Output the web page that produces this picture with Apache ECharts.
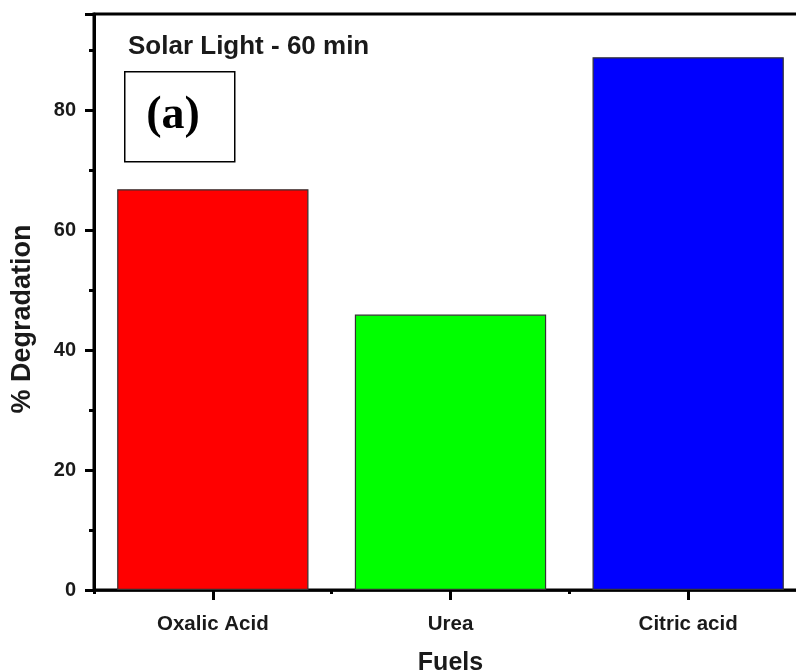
<!DOCTYPE html>
<html><head><meta charset="utf-8">
<script src="https://cdn.jsdelivr.net/npm/echarts@6/dist/echarts.min.js"></script>
<style>html,body{margin:0;padding:0;background:#fff;overflow:hidden}#c{width:796px;height:671px}</style>
</head><body><div id="c"></div>
<script>
const categories = ['Oxalic Acid', 'Urea', 'Citric acid'];
const degradation = [66.8, 45.9, 88.8];
const barColors = ['#ff0000', '#00ff00', '#0000ff'];
const titleText = 'Solar Light - 60 min';
const panelLabel = '(a)';
const xName = 'Fuels';
const yName = '% Degradation';

const F = '"Liberation Sans", Arial, sans-serif';
const chart = echarts.init(document.getElementById('c'));
chart.setOption({
  animation: false,
  backgroundColor: '#fff',
  title: {
    text: titleText, left: 123, top: 29,
    textStyle: { fontFamily: F, fontWeight: 'bold', fontSize: 26, color: '#1a1a1a' }
  },
  grid: { left: 94, right: -11, top: 14, bottom: 81, show: true, borderColor: '#000', borderWidth: 3,
    containLabel: false, outerBoundsMode: 'none' },
  xAxis: [{
    type: 'category', data: categories, position: 'bottom',
    name: xName, nameLocation: 'middle', nameGap: 61,
    nameTextStyle: { fontFamily: F, fontWeight: 'bold', fontSize: 25, color: '#1a1a1a' },
    axisLine: { lineStyle: { color: '#000', width: 2.5 } },
    axisTick: { show: true, alignWithLabel: true, inside: false, length: 10, lineStyle: { color: '#000', width: 3 } },
    axisLabel: { margin: 24, fontFamily: F, fontWeight: 'bold', fontSize: 20.5, color: '#1a1a1a' },
    splitLine: { show: false }
  }, {
    type: 'category', data: categories, position: 'bottom', gridIndex: 0,
    axisLine: { show: false },
    axisTick: { show: true, alignWithLabel: false, length: 4, lineStyle: { color: '#000', width: 3 } },
    axisLabel: { show: false }, splitLine: { show: false }
  }],
  yAxis: {
    type: 'value', min: 0, max: 96, interval: 20,
    name: yName, nameLocation: 'middle', nameGap: 58, nameRotate: 90,
    nameTextStyle: { fontFamily: F, fontWeight: 'bold', fontSize: 27, color: '#1a1a1a', padding: [0, 34, 0, 0] },
    axisLine: { show: true, lineStyle: { color: '#000', width: 3 } },
    axisTick: { show: true, length: 9, lineStyle: { color: '#000', width: 3 } },
    minorTick: { show: true, splitNumber: 2, length: 5, lineStyle: { color: '#000', width: 3 } },
    axisLabel: { margin: 18, fontFamily: F, fontWeight: 'bold', fontSize: 20, color: '#1a1a1a',
      formatter: v => (v > 90 ? '' : v) },
    splitLine: { show: false }
  },
  series: [{
    type: 'bar', xAxisIndex: 0,
    data: degradation.map((v, i) => ({ value: v, itemStyle: { color: barColors[i] } })),
    barWidth: '80.5%',
    itemStyle: { borderColor: '#333', borderWidth: 1.2 }
  }],
  graphic: [{
    type: 'rect', left: 124, top: 71,
    shape: { width: 110, height: 90 },
    style: { fill: '#fff', stroke: '#000', lineWidth: 1.5 }, z: 10
  }, {
    type: 'text', x: 173, y: 116,
    style: { text: panelLabel, fontSize: 46, fontWeight: 'bold', fontFamily: '"Liberation Serif", "Times New Roman", serif',
      fill: '#000', align: 'center', verticalAlign: 'middle' },
    z: 11
  }]
});
</script></body></html>
